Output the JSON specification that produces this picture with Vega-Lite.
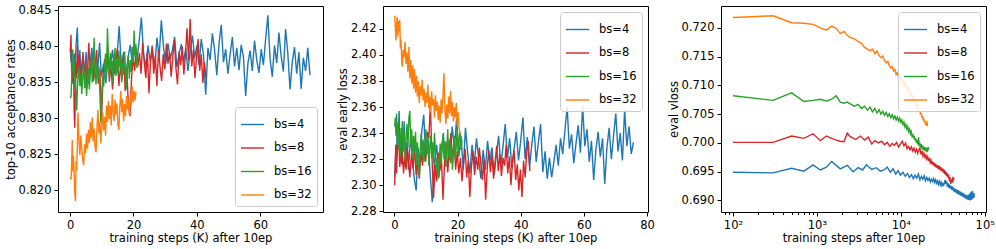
{
"$schema": "https://vega.github.io/schema/vega-lite/v6.json",
"padding": {"left": 4, "top": 3, "right": 1, "bottom": 3},
"background": "white",
"data": {"values": [
{"s":"bs=4","k":0.1,"a":0.8398,"e":2.306,"v":0.6949},
{"s":"bs=4","k":0.3,"a":0.8378,"e":2.318,"v":0.6948},
{"s":"bs=4","k":0.5,"a":0.8392,"e":2.331,"v":0.6956},
{"s":"bs=4","k":0.7,"a":0.8361,"e":2.322,"v":0.6951},
{"s":"bs=4","k":0.9,"a":0.8348,"e":2.345,"v":0.6962},
{"s":"bs=4","k":1.1,"a":0.8372,"e":2.328,"v":0.6953},
{"s":"bs=4","k":1.3,"a":0.8390,"e":2.340,"v":0.6958},
{"s":"bs=4","k":1.5,"a":0.8355,"e":2.357,"v":0.6968},
{"s":"bs=4","k":1.7,"a":0.8383,"e":2.335,"v":0.6961},
{"s":"bs=4","k":1.9,"a":0.8402,"e":2.318,"v":0.6955},
{"s":"bs=4","k":2.3,"a":0.8426,"e":2.341,"v":0.6961},
{"s":"bs=4","k":2.7,"a":0.8366,"e":2.326,"v":0.6950},
{"s":"bs=4","k":3.1,"a":0.8395,"e":2.349,"v":0.6957},
{"s":"bs=4","k":3.5,"a":0.8352,"e":2.318,"v":0.6953},
{"s":"bs=4","k":3.9,"a":0.8381,"e":2.333,"v":0.6962},
{"s":"bs=4","k":4.5,"a":0.8360,"e":2.312,"v":0.6954},
{"s":"bs=4","k":5.1,"a":0.8392,"e":2.338,"v":0.6957},
{"s":"bs=4","k":5.7,"a":0.8347,"e":2.321,"v":0.6951},
{"s":"bs=4","k":6.3,"a":0.8374,"e":2.305,"v":0.6953},
{"s":"bs=4","k":6.9,"a":0.8398,"e":2.296,"v":0.6958},
{"s":"bs=4","k":7.5,"a":0.8356,"e":2.329,"v":0.6949},
{"s":"bs=4","k":8.1,"a":0.8382,"e":2.315,"v":0.6955},
{"s":"bs=4","k":8.7,"a":0.8365,"e":2.342,"v":0.6946},
{"s":"bs=4","k":9.3,"a":0.8405,"e":2.354,"v":0.6952},
{"s":"bs=4","k":9.9,"a":0.8358,"e":2.322,"v":0.6944},
{"s":"bs=4","k":10.6,"a":0.8376,"e":2.336,"v":0.6949},
{"s":"bs=4","k":11.3,"a":0.8349,"e":2.310,"v":0.6942},
{"s":"bs=4","k":12.0,"a":0.8388,"e":2.287,"v":0.6947},
{"s":"bs=4","k":12.7,"a":0.8372,"e":2.318,"v":0.6940},
{"s":"bs=4","k":13.4,"a":0.8395,"e":2.331,"v":0.6945},
{"s":"bs=4","k":14.1,"a":0.8361,"e":2.306,"v":0.6938},
{"s":"bs=4","k":14.8,"a":0.8384,"e":2.326,"v":0.6944},
{"s":"bs=4","k":15.5,"a":0.8428,"e":2.340,"v":0.6939},
{"s":"bs=4","k":16.2,"a":0.8370,"e":2.315,"v":0.6946},
{"s":"bs=4","k":16.9,"a":0.8392,"e":2.333,"v":0.6936},
{"s":"bs=4","k":17.6,"a":0.8358,"e":2.319,"v":0.6942},
{"s":"bs=4","k":18.3,"a":0.8385,"e":2.345,"v":0.6937},
{"s":"bs=4","k":19.0,"a":0.8402,"e":2.328,"v":0.6943},
{"s":"bs=4","k":19.7,"a":0.8372,"e":2.351,"v":0.6934},
{"s":"bs=4","k":20.4,"a":0.8396,"e":2.322,"v":0.6940},
{"s":"bs=4","k":21.1,"a":0.8381,"e":2.338,"v":0.6935},
{"s":"bs=4","k":21.8,"a":0.8407,"e":2.312,"v":0.6939},
{"s":"bs=4","k":22.5,"a":0.8440,"e":2.344,"v":0.6932},
{"s":"bs=4","k":23.2,"a":0.8388,"e":2.325,"v":0.6937},
{"s":"bs=4","k":23.9,"a":0.8372,"e":2.309,"v":0.6933},
{"s":"bs=4","k":24.6,"a":0.8401,"e":2.331,"v":0.6938},
{"s":"bs=4","k":25.3,"a":0.8379,"e":2.316,"v":0.6931},
{"s":"bs=4","k":26.0,"a":0.8395,"e":2.336,"v":0.6936},
{"s":"bs=4","k":26.7,"a":0.8368,"e":2.320,"v":0.6930},
{"s":"bs=4","k":27.4,"a":0.8412,"e":2.305,"v":0.6934},
{"s":"bs=4","k":28.1,"a":0.8385,"e":2.327,"v":0.6928},
{"s":"bs=4","k":28.8,"a":0.8436,"e":2.312,"v":0.6933},
{"s":"bs=4","k":29.5,"a":0.8398,"e":2.334,"v":0.6927},
{"s":"bs=4","k":30.2,"a":0.8376,"e":2.318,"v":0.6932},
{"s":"bs=4","k":30.9,"a":0.8404,"e":2.329,"v":0.6926},
{"s":"bs=4","k":31.6,"a":0.8382,"e":2.308,"v":0.6931},
{"s":"bs=4","k":32.3,"a":0.8395,"e":2.324,"v":0.6925},
{"s":"bs=4","k":33.0,"a":0.8413,"e":2.338,"v":0.6930},
{"s":"bs=4","k":33.7,"a":0.8371,"e":2.315,"v":0.6936},
{"s":"bs=4","k":34.4,"a":0.8390,"e":2.330,"v":0.6929},
{"s":"bs=4","k":35.1,"a":0.8403,"e":2.347,"v":0.6934},
{"s":"bs=4","k":35.8,"a":0.8378,"e":2.321,"v":0.6924},
{"s":"bs=4","k":36.5,"a":0.8397,"e":2.336,"v":0.6930},
{"s":"bs=4","k":37.2,"a":0.8366,"e":2.313,"v":0.6922},
{"s":"bs=4","k":37.9,"a":0.8392,"e":2.328,"v":0.6928},
{"s":"bs=4","k":38.6,"a":0.8415,"e":2.341,"v":0.6921},
{"s":"bs=4","k":39.3,"a":0.8384,"e":2.319,"v":0.6926},
{"s":"bs=4","k":40.0,"a":0.8401,"e":2.334,"v":0.6919},
{"s":"bs=4","k":40.7,"a":0.8374,"e":2.352,"v":0.6925},
{"s":"bs=4","k":41.4,"a":0.8410,"e":2.320,"v":0.6918},
{"s":"bs=4","k":42.1,"a":0.8388,"e":2.337,"v":0.6923},
{"s":"bs=4","k":42.8,"a":0.8333,"e":2.314,"v":0.6916},
{"s":"bs=4","k":43.5,"a":0.8398,"e":2.331,"v":0.6921},
{"s":"bs=4","k":44.2,"a":0.8381,"e":2.345,"v":0.6915},
{"s":"bs=4","k":44.9,"a":0.8418,"e":2.318,"v":0.6920},
{"s":"bs=4","k":45.6,"a":0.8395,"e":2.333,"v":0.6913},
{"s":"bs=4","k":46.3,"a":0.8360,"e":2.347,"v":0.6919},
{"s":"bs=4","k":47.0,"a":0.8404,"e":2.310,"v":0.6912},
{"s":"bs=4","k":47.7,"a":0.8430,"e":2.326,"v":0.6918},
{"s":"bs=4","k":48.4,"a":0.8378,"e":2.305,"v":0.6911},
{"s":"bs=4","k":49.1,"a":0.8396,"e":2.321,"v":0.6917},
{"s":"bs=4","k":49.8,"a":0.8362,"e":2.306,"v":0.6910},
{"s":"bs=4","k":50.5,"a":0.8389,"e":2.318,"v":0.6916},
{"s":"bs=4","k":51.2,"a":0.8413,"e":2.331,"v":0.6909},
{"s":"bs=4","k":51.9,"a":0.8372,"e":2.315,"v":0.6915},
{"s":"bs=4","k":52.6,"a":0.8398,"e":2.336,"v":0.6908},
{"s":"bs=4","k":53.3,"a":0.8367,"e":2.324,"v":0.6914},
{"s":"bs=4","k":54.0,"a":0.8402,"e":2.342,"v":0.6907},
{"s":"bs=4","k":54.7,"a":0.8385,"e":2.360,"v":0.6913},
{"s":"bs=4","k":55.4,"a":0.8331,"e":2.328,"v":0.6906},
{"s":"bs=4","k":56.1,"a":0.8376,"e":2.339,"v":0.6912},
{"s":"bs=4","k":56.8,"a":0.8394,"e":2.317,"v":0.6905},
{"s":"bs=4","k":57.5,"a":0.8366,"e":2.332,"v":0.6911},
{"s":"bs=4","k":58.2,"a":0.8408,"e":2.346,"v":0.6904},
{"s":"bs=4","k":58.9,"a":0.8381,"e":2.325,"v":0.6910},
{"s":"bs=4","k":59.6,"a":0.8363,"e":2.361,"v":0.6903},
{"s":"bs=4","k":60.3,"a":0.8396,"e":2.330,"v":0.6909},
{"s":"bs=4","k":61.0,"a":0.8374,"e":2.343,"v":0.6902},
{"s":"bs=4","k":61.7,"a":0.8410,"e":2.318,"v":0.6908},
{"s":"bs=4","k":62.4,"a":0.8443,"e":2.334,"v":0.6903},
{"s":"bs=4","k":63.1,"a":0.8382,"e":2.304,"v":0.6910},
{"s":"bs=4","k":63.8,"a":0.8358,"e":2.327,"v":0.6901},
{"s":"bs=4","k":64.5,"a":0.8401,"e":2.341,"v":0.6907},
{"s":"bs=4","k":65.2,"a":0.8377,"e":2.322,"v":0.6903},
{"s":"bs=4","k":65.9,"a":0.8419,"e":2.336,"v":0.6912},
{"s":"bs=4","k":66.6,"a":0.8386,"e":2.301,"v":0.6900},
{"s":"bs=4","k":67.3,"a":0.8365,"e":2.329,"v":0.6906},
{"s":"bs=4","k":68.0,"a":0.8424,"e":2.344,"v":0.6902},
{"s":"bs=4","k":68.7,"a":0.8390,"e":2.320,"v":0.6915},
{"s":"bs=4","k":69.4,"a":0.8340,"e":2.338,"v":0.6901},
{"s":"bs=4","k":70.1,"a":0.8378,"e":2.355,"v":0.6908},
{"s":"bs=4","k":70.8,"a":0.8399,"e":2.326,"v":0.6904},
{"s":"bs=4","k":71.5,"a":0.8362,"e":2.340,"v":0.6917},
{"s":"bs=4","k":72.2,"a":0.8392,"e":2.319,"v":0.6903},
{"s":"bs=4","k":72.9,"a":0.8341,"e":2.358,"v":0.6910},
{"s":"bs=4","k":73.6,"a":0.8384,"e":2.330,"v":0.6905},
{"s":"bs=4","k":74.3,"a":0.8366,"e":2.345,"v":0.6913},
{"s":"bs=4","k":75.0,"a":0.8398,"e":2.324,"v":0.6906},
{"s":"bs=4","k":75.7,"a":0.8360,"e":2.333,"v":0.6909},
{"s":"bs=8","k":0.1,"a":0.8392,"e":2.300,"v":0.7001},
{"s":"bs=8","k":0.3,"a":0.8416,"e":2.318,"v":0.7001},
{"s":"bs=8","k":0.5,"a":0.8365,"e":2.331,"v":0.7012},
{"s":"bs=8","k":0.7,"a":0.8384,"e":2.309,"v":0.7008},
{"s":"bs=8","k":0.9,"a":0.8350,"e":2.325,"v":0.7016},
{"s":"bs=8","k":1.1,"a":0.8372,"e":2.334,"v":0.7004},
{"s":"bs=8","k":1.3,"a":0.8310,"e":2.343,"v":0.7012},
{"s":"bs=8","k":1.5,"a":0.8287,"e":2.328,"v":0.7008},
{"s":"bs=8","k":1.7,"a":0.8345,"e":2.314,"v":0.7005},
{"s":"bs=8","k":1.9,"a":0.8378,"e":2.322,"v":0.7003},
{"s":"bs=8","k":2.1,"a":0.8356,"e":2.339,"v":0.7002},
{"s":"bs=8","k":2.3,"a":0.8401,"e":2.316,"v":0.7017},
{"s":"bs=8","k":2.5,"a":0.8363,"e":2.327,"v":0.7011},
{"s":"bs=8","k":2.9,"a":0.8388,"e":2.309,"v":0.7006},
{"s":"bs=8","k":3.3,"a":0.8347,"e":2.322,"v":0.7012},
{"s":"bs=8","k":3.7,"a":0.8371,"e":2.312,"v":0.7005},
{"s":"bs=8","k":4.1,"a":0.8392,"e":2.330,"v":0.7010},
{"s":"bs=8","k":4.5,"a":0.8358,"e":2.318,"v":0.6998},
{"s":"bs=8","k":4.9,"a":0.8380,"e":2.306,"v":0.7004},
{"s":"bs=8","k":5.4,"a":0.8343,"e":2.324,"v":0.7000},
{"s":"bs=8","k":5.9,"a":0.8405,"e":2.313,"v":0.7003},
{"s":"bs=8","k":6.4,"a":0.8366,"e":2.329,"v":0.6997},
{"s":"bs=8","k":6.9,"a":0.8385,"e":2.308,"v":0.7001},
{"s":"bs=8","k":7.4,"a":0.8352,"e":2.320,"v":0.6994},
{"s":"bs=8","k":7.9,"a":0.8374,"e":2.305,"v":0.6999},
{"s":"bs=8","k":8.4,"a":0.8395,"e":2.326,"v":0.6996},
{"s":"bs=8","k":8.9,"a":0.8348,"e":2.315,"v":0.7001},
{"s":"bs=8","k":9.4,"a":0.8368,"e":2.332,"v":0.6993},
{"s":"bs=8","k":9.9,"a":0.8294,"e":2.318,"v":0.6998},
{"s":"bs=8","k":10.4,"a":0.8357,"e":2.341,"v":0.7003},
{"s":"bs=8","k":10.9,"a":0.8382,"e":2.336,"v":0.6995},
{"s":"bs=8","k":11.4,"a":0.8362,"e":2.361,"v":0.7000},
{"s":"bs=8","k":11.9,"a":0.8399,"e":2.322,"v":0.6990},
{"s":"bs=8","k":12.4,"a":0.8351,"e":2.290,"v":0.6994},
{"s":"bs=8","k":12.9,"a":0.8376,"e":2.316,"v":0.6988},
{"s":"bs=8","k":13.4,"a":0.8340,"e":2.303,"v":0.6993},
{"s":"bs=8","k":13.9,"a":0.8388,"e":2.325,"v":0.6986},
{"s":"bs=8","k":14.4,"a":0.8364,"e":2.311,"v":0.6991},
{"s":"bs=8","k":14.9,"a":0.8397,"e":2.320,"v":0.6984},
{"s":"bs=8","k":15.4,"a":0.8345,"e":2.289,"v":0.6989},
{"s":"bs=8","k":15.9,"a":0.8372,"e":2.318,"v":0.6982},
{"s":"bs=8","k":16.4,"a":0.8354,"e":2.333,"v":0.6988},
{"s":"bs=8","k":16.9,"a":0.8390,"e":2.310,"v":0.6991},
{"s":"bs=8","k":17.4,"a":0.8338,"e":2.327,"v":0.6980},
{"s":"bs=8","k":17.9,"a":0.8368,"e":2.340,"v":0.6986},
{"s":"bs=8","k":18.4,"a":0.8318,"e":2.319,"v":0.6977},
{"s":"bs=8","k":18.9,"a":0.8303,"e":2.334,"v":0.6982},
{"s":"bs=8","k":19.4,"a":0.8356,"e":2.312,"v":0.6975},
{"s":"bs=8","k":19.9,"a":0.8384,"e":2.326,"v":0.6979},
{"s":"bs=8","k":20.4,"a":0.8366,"e":2.309,"v":0.6972},
{"s":"bs=8","k":20.9,"a":0.8398,"e":2.321,"v":0.6976},
{"s":"bs=8","k":21.4,"a":0.8372,"e":2.303,"v":0.6969},
{"s":"bs=8","k":21.9,"a":0.8391,"e":2.317,"v":0.6974},
{"s":"bs=8","k":22.4,"a":0.8362,"e":2.328,"v":0.6966},
{"s":"bs=8","k":22.9,"a":0.8405,"e":2.306,"v":0.6970},
{"s":"bs=8","k":23.4,"a":0.8378,"e":2.319,"v":0.6963},
{"s":"bs=8","k":23.9,"a":0.8356,"e":2.291,"v":0.6968},
{"s":"bs=8","k":24.4,"a":0.8392,"e":2.314,"v":0.6961},
{"s":"bs=8","k":24.9,"a":0.8335,"e":2.326,"v":0.6966},
{"s":"bs=8","k":25.4,"a":0.8380,"e":2.308,"v":0.6959},
{"s":"bs=8","k":25.9,"a":0.8401,"e":2.322,"v":0.6964},
{"s":"bs=8","k":26.4,"a":0.8362,"e":2.312,"v":0.6957},
{"s":"bs=8","k":26.9,"a":0.8387,"e":2.329,"v":0.6962},
{"s":"bs=8","k":27.4,"a":0.8345,"e":2.316,"v":0.6956},
{"s":"bs=8","k":27.9,"a":0.8395,"e":2.304,"v":0.6961},
{"s":"bs=8","k":28.4,"a":0.8371,"e":2.320,"v":0.6954},
{"s":"bs=8","k":28.9,"a":0.8352,"e":2.289,"v":0.6960},
{"s":"bs=8","k":29.4,"a":0.8389,"e":2.313,"v":0.6953},
{"s":"bs=8","k":29.9,"a":0.8368,"e":2.327,"v":0.6958},
{"s":"bs=8","k":30.4,"a":0.8404,"e":2.310,"v":0.6951},
{"s":"bs=8","k":30.9,"a":0.8376,"e":2.323,"v":0.6956},
{"s":"bs=8","k":31.4,"a":0.8392,"e":2.305,"v":0.6950},
{"s":"bs=8","k":31.9,"a":0.8358,"e":2.318,"v":0.6955},
{"s":"bs=8","k":32.4,"a":0.8385,"e":2.330,"v":0.6948},
{"s":"bs=8","k":32.9,"a":0.8409,"e":2.311,"v":0.6953},
{"s":"bs=8","k":33.4,"a":0.8370,"e":2.324,"v":0.6946},
{"s":"bs=8","k":33.9,"a":0.8347,"e":2.307,"v":0.6951},
{"s":"bs=8","k":34.4,"a":0.8393,"e":2.321,"v":0.6944},
{"s":"bs=8","k":34.9,"a":0.8374,"e":2.315,"v":0.6949},
{"s":"bs=8","k":35.4,"a":0.8400,"e":2.331,"v":0.6942},
{"s":"bs=8","k":35.9,"a":0.8361,"e":2.309,"v":0.6947},
{"s":"bs=8","k":36.4,"a":0.8388,"e":2.322,"v":0.6940},
{"s":"bs=8","k":36.9,"a":0.8425,"e":2.300,"v":0.6945},
{"s":"bs=8","k":37.4,"a":0.8380,"e":2.318,"v":0.6938},
{"s":"bs=8","k":37.9,"a":0.8438,"e":2.327,"v":0.6936},
{"s":"bs=8","k":38.4,"a":0.8372,"e":2.304,"v":0.6941},
{"s":"bs=8","k":38.9,"a":0.8395,"e":2.316,"v":0.6934},
{"s":"bs=8","k":39.4,"a":0.8356,"e":2.296,"v":0.6929},
{"s":"bs=8","k":39.9,"a":0.8384,"e":2.312,"v":0.6936},
{"s":"bs=8","k":40.4,"a":0.8410,"e":2.291,"v":0.6932},
{"s":"bs=8","k":40.9,"a":0.8366,"e":2.319,"v":0.6938},
{"s":"bs=8","k":41.4,"a":0.8389,"e":2.306,"v":0.6931},
{"s":"bs=8","k":41.9,"a":0.8349,"e":2.325,"v":0.6941},
{"s":"bs=8","k":42.4,"a":0.8378,"e":2.334,"v":0.6935},
{"s":"bs=8","k":42.9,"a":0.8355,"e":2.311,"v":0.6940},
{"s":"bs=16","k":0.1,"a":0.8328,"e":2.345,"v":0.7082},
{"s":"bs=16","k":0.3,"a":0.8330,"e":2.352,"v":0.7074},
{"s":"bs=16","k":0.5,"a":0.8352,"e":2.338,"v":0.7087},
{"s":"bs=16","k":0.7,"a":0.8381,"e":2.355,"v":0.7072},
{"s":"bs=16","k":0.9,"a":0.8396,"e":2.342,"v":0.7074},
{"s":"bs=16","k":1.1,"a":0.8365,"e":2.331,"v":0.7076},
{"s":"bs=16","k":1.3,"a":0.8378,"e":2.348,"v":0.7073},
{"s":"bs=16","k":1.5,"a":0.8342,"e":2.327,"v":0.7076},
{"s":"bs=16","k":1.7,"a":0.8360,"e":2.339,"v":0.7082},
{"s":"bs=16","k":1.9,"a":0.8325,"e":2.322,"v":0.7071},
{"s":"bs=16","k":2.1,"a":0.8311,"e":2.344,"v":0.7069},
{"s":"bs=16","k":2.3,"a":0.8338,"e":2.334,"v":0.7071},
{"s":"bs=16","k":2.5,"a":0.8356,"e":2.349,"v":0.7068},
{"s":"bs=16","k":2.8,"a":0.8372,"e":2.326,"v":0.7064},
{"s":"bs=16","k":3.1,"a":0.8345,"e":2.340,"v":0.7067},
{"s":"bs=16","k":3.4,"a":0.8361,"e":2.318,"v":0.7060},
{"s":"bs=16","k":3.7,"a":0.8334,"e":2.336,"v":0.7064},
{"s":"bs=16","k":4.0,"a":0.8357,"e":2.347,"v":0.7057},
{"s":"bs=16","k":4.3,"a":0.8377,"e":2.329,"v":0.7062},
{"s":"bs=16","k":4.6,"a":0.8342,"e":2.352,"v":0.7054},
{"s":"bs=16","k":4.9,"a":0.8365,"e":2.357,"v":0.7060},
{"s":"bs=16","k":5.2,"a":0.8331,"e":2.331,"v":0.7052},
{"s":"bs=16","k":5.5,"a":0.8353,"e":2.343,"v":0.7058},
{"s":"bs=16","k":5.8,"a":0.8370,"e":2.320,"v":0.7050},
{"s":"bs=16","k":6.1,"a":0.8340,"e":2.338,"v":0.7055},
{"s":"bs=16","k":6.4,"a":0.8362,"e":2.325,"v":0.7048},
{"s":"bs=16","k":6.7,"a":0.8385,"e":2.341,"v":0.7053},
{"s":"bs=16","k":7.0,"a":0.8350,"e":2.316,"v":0.7046},
{"s":"bs=16","k":7.3,"a":0.8373,"e":2.333,"v":0.7051},
{"s":"bs=16","k":7.6,"a":0.8412,"e":2.312,"v":0.7044},
{"s":"bs=16","k":7.9,"a":0.8366,"e":2.307,"v":0.7049},
{"s":"bs=16","k":8.2,"a":0.8347,"e":2.328,"v":0.7042},
{"s":"bs=16","k":8.5,"a":0.8378,"e":2.340,"v":0.7047},
{"s":"bs=16","k":8.8,"a":0.8355,"e":2.322,"v":0.7040},
{"s":"bs=16","k":9.1,"a":0.8372,"e":2.335,"v":0.7045},
{"s":"bs=16","k":9.4,"a":0.8338,"e":2.318,"v":0.7038},
{"s":"bs=16","k":9.7,"a":0.8296,"e":2.330,"v":0.7043},
{"s":"bs=16","k":10.0,"a":0.8331,"e":2.343,"v":0.7036},
{"s":"bs=16","k":10.3,"a":0.8358,"e":2.324,"v":0.7040},
{"s":"bs=16","k":10.6,"a":0.8344,"e":2.336,"v":0.7032},
{"s":"bs=16","k":10.9,"a":0.8371,"e":2.315,"v":0.7036},
{"s":"bs=16","k":11.2,"a":0.8390,"e":2.329,"v":0.7028},
{"s":"bs=16","k":11.5,"a":0.8362,"e":2.338,"v":0.7032},
{"s":"bs=16","k":11.8,"a":0.8425,"e":2.321,"v":0.7024},
{"s":"bs=16","k":12.1,"a":0.8384,"e":2.333,"v":0.7028},
{"s":"bs=16","k":12.4,"a":0.8356,"e":2.317,"v":0.7020},
{"s":"bs=16","k":12.7,"a":0.8391,"e":2.340,"v":0.7024},
{"s":"bs=16","k":13.0,"a":0.8366,"e":2.326,"v":0.7016},
{"s":"bs=16","k":13.3,"a":0.8380,"e":2.312,"v":0.7020},
{"s":"bs=16","k":13.6,"a":0.8347,"e":2.321,"v":0.7012},
{"s":"bs=16","k":13.9,"a":0.8375,"e":2.305,"v":0.7016},
{"s":"bs=16","k":14.2,"a":0.8398,"e":2.318,"v":0.7008},
{"s":"bs=16","k":14.5,"a":0.8359,"e":2.332,"v":0.7012},
{"s":"bs=16","k":14.8,"a":0.8383,"e":2.316,"v":0.7004},
{"s":"bs=16","k":15.1,"a":0.8362,"e":2.327,"v":0.7008},
{"s":"bs=16","k":15.4,"a":0.8394,"e":2.339,"v":0.7000},
{"s":"bs=16","k":15.7,"a":0.8371,"e":2.320,"v":0.7005},
{"s":"bs=16","k":16.0,"a":0.8387,"e":2.334,"v":0.6997},
{"s":"bs=16","k":16.3,"a":0.8350,"e":2.314,"v":0.7010},
{"s":"bs=16","k":16.6,"a":0.8376,"e":2.328,"v":0.6994},
{"s":"bs=16","k":16.9,"a":0.8361,"e":2.343,"v":0.7000},
{"s":"bs=16","k":17.2,"a":0.8393,"e":2.322,"v":0.6992},
{"s":"bs=16","k":17.5,"a":0.8368,"e":2.335,"v":0.6998},
{"s":"bs=16","k":17.8,"a":0.8340,"e":2.317,"v":0.6990},
{"s":"bs=16","k":18.1,"a":0.8372,"e":2.330,"v":0.6996},
{"s":"bs=16","k":18.4,"a":0.8386,"e":2.312,"v":0.6988},
{"s":"bs=16","k":18.7,"a":0.8355,"e":2.325,"v":0.6994},
{"s":"bs=16","k":19.0,"a":0.8381,"e":2.338,"v":0.6987},
{"s":"bs=16","k":19.3,"a":0.8364,"e":2.319,"v":0.6993},
{"s":"bs=16","k":19.6,"a":0.8399,"e":2.331,"v":0.6986},
{"s":"bs=16","k":19.9,"a":0.8377,"e":2.344,"v":0.6992},
{"s":"bs=16","k":20.2,"a":0.8422,"e":2.323,"v":0.6985},
{"s":"bs=16","k":20.5,"a":0.8388,"e":2.336,"v":0.6991},
{"s":"bs=16","k":20.8,"a":0.8403,"e":2.341,"v":0.6984},
{"s":"bs=16","k":21.1,"a":0.8370,"e":2.327,"v":0.6993},
{"s":"bs=16","k":21.4,"a":0.8386,"e":2.335,"v":0.6988},
{"s":"bs=32","k":0.1,"a":0.8218,"e":2.430,"v":0.7218},
{"s":"bs=32","k":0.3,"a":0.8215,"e":2.421,"v":0.7221},
{"s":"bs=32","k":0.5,"a":0.8238,"e":2.411,"v":0.7209},
{"s":"bs=32","k":0.7,"a":0.8270,"e":2.424,"v":0.7208},
{"s":"bs=32","k":0.9,"a":0.8226,"e":2.429,"v":0.7206},
{"s":"bs=32","k":1.1,"a":0.8248,"e":2.414,"v":0.7200},
{"s":"bs=32","k":1.3,"a":0.8222,"e":2.426,"v":0.7196},
{"s":"bs=32","k":1.5,"a":0.8197,"e":2.418,"v":0.7203},
{"s":"bs=32","k":1.7,"a":0.8185,"e":2.427,"v":0.7199},
{"s":"bs=32","k":1.9,"a":0.8240,"e":2.405,"v":0.7190},
{"s":"bs=32","k":2.1,"a":0.8228,"e":2.412,"v":0.7194},
{"s":"bs=32","k":2.3,"a":0.8262,"e":2.397,"v":0.7187},
{"s":"bs=32","k":2.5,"a":0.8308,"e":2.391,"v":0.7183},
{"s":"bs=32","k":2.8,"a":0.8271,"e":2.404,"v":0.7181},
{"s":"bs=32","k":3.1,"a":0.8249,"e":2.398,"v":0.7176},
{"s":"bs=32","k":3.4,"a":0.8276,"e":2.410,"v":0.7173},
{"s":"bs=32","k":3.7,"a":0.8258,"e":2.393,"v":0.7166},
{"s":"bs=32","k":4.0,"a":0.8242,"e":2.402,"v":0.7163},
{"s":"bs=32","k":4.3,"a":0.8235,"e":2.387,"v":0.7160},
{"s":"bs=32","k":4.6,"a":0.8264,"e":2.406,"v":0.7163},
{"s":"bs=32","k":4.9,"a":0.8252,"e":2.382,"v":0.7155},
{"s":"bs=32","k":5.2,"a":0.8279,"e":2.396,"v":0.7160},
{"s":"bs=32","k":5.5,"a":0.8258,"e":2.378,"v":0.7152},
{"s":"bs=32","k":5.8,"a":0.8284,"e":2.392,"v":0.7148},
{"s":"bs=32","k":6.1,"a":0.8266,"e":2.374,"v":0.7151},
{"s":"bs=32","k":6.4,"a":0.8295,"e":2.389,"v":0.7143},
{"s":"bs=32","k":6.7,"a":0.8272,"e":2.371,"v":0.7139},
{"s":"bs=32","k":7.0,"a":0.8301,"e":2.384,"v":0.7142},
{"s":"bs=32","k":7.3,"a":0.8268,"e":2.368,"v":0.7134},
{"s":"bs=32","k":7.6,"a":0.8286,"e":2.380,"v":0.7130},
{"s":"bs=32","k":7.9,"a":0.8260,"e":2.363,"v":0.7133},
{"s":"bs=32","k":8.2,"a":0.8253,"e":2.376,"v":0.7125},
{"s":"bs=32","k":8.5,"a":0.8288,"e":2.369,"v":0.7128},
{"s":"bs=32","k":8.8,"a":0.8312,"e":2.381,"v":0.7119},
{"s":"bs=32","k":9.1,"a":0.8279,"e":2.365,"v":0.7122},
{"s":"bs=32","k":9.4,"a":0.8296,"e":2.374,"v":0.7114},
{"s":"bs=32","k":9.7,"a":0.8265,"e":2.360,"v":0.7117},
{"s":"bs=32","k":10.0,"a":0.8290,"e":2.371,"v":0.7109},
{"s":"bs=32","k":10.3,"a":0.8308,"e":2.363,"v":0.7112},
{"s":"bs=32","k":10.6,"a":0.8283,"e":2.377,"v":0.7104},
{"s":"bs=32","k":10.9,"a":0.8302,"e":2.359,"v":0.7107},
{"s":"bs=32","k":11.2,"a":0.8276,"e":2.368,"v":0.7099},
{"s":"bs=32","k":11.5,"a":0.8318,"e":2.356,"v":0.7102},
{"s":"bs=32","k":11.8,"a":0.8295,"e":2.372,"v":0.7094},
{"s":"bs=32","k":12.1,"a":0.8324,"e":2.361,"v":0.7097},
{"s":"bs=32","k":12.4,"a":0.8299,"e":2.366,"v":0.7089},
{"s":"bs=32","k":12.7,"a":0.8317,"e":2.352,"v":0.7092},
{"s":"bs=32","k":13.0,"a":0.8290,"e":2.369,"v":0.7084},
{"s":"bs=32","k":13.3,"a":0.8334,"e":2.357,"v":0.7087},
{"s":"bs=32","k":13.6,"a":0.8310,"e":2.364,"v":0.7079},
{"s":"bs=32","k":13.9,"a":0.8296,"e":2.350,"v":0.7082},
{"s":"bs=32","k":14.2,"a":0.8326,"e":2.361,"v":0.7074},
{"s":"bs=32","k":14.5,"a":0.8305,"e":2.348,"v":0.7077},
{"s":"bs=32","k":14.8,"a":0.8321,"e":2.366,"v":0.7069},
{"s":"bs=32","k":15.1,"a":0.8292,"e":2.355,"v":0.7072},
{"s":"bs=32","k":15.4,"a":0.8284,"e":2.370,"v":0.7064},
{"s":"bs=32","k":15.7,"a":0.8316,"e":2.386,"v":0.7067},
{"s":"bs=32","k":16.0,"a":0.8338,"e":2.358,"v":0.7059},
{"s":"bs=32","k":16.3,"a":0.8309,"e":2.347,"v":0.7062},
{"s":"bs=32","k":16.6,"a":0.8327,"e":2.362,"v":0.7054},
{"s":"bs=32","k":16.9,"a":0.8296,"e":2.351,"v":0.7057},
{"s":"bs=32","k":17.2,"a":0.8320,"e":2.368,"v":0.7049},
{"s":"bs=32","k":17.5,"a":0.8303,"e":2.355,"v":0.7052},
{"s":"bs=32","k":17.8,"a":0.8331,"e":2.372,"v":0.7044},
{"s":"bs=32","k":18.1,"a":0.8312,"e":2.353,"v":0.7047},
{"s":"bs=32","k":18.4,"a":0.8326,"e":2.364,"v":0.7040},
{"s":"bs=32","k":18.7,"a":0.8305,"e":2.349,"v":0.7043},
{"s":"bs=32","k":19.0,"a":0.8333,"e":2.360,"v":0.7036},
{"s":"bs=32","k":19.3,"a":0.8318,"e":2.352,"v":0.7039},
{"s":"bs=32","k":19.6,"a":0.8345,"e":2.363,"v":0.7032},
{"s":"bs=32","k":19.9,"a":0.8322,"e":2.346,"v":0.7035},
{"s":"bs=32","k":20.2,"a":0.8338,"e":2.356,"v":0.7030},
{"s":"bs=32","k":20.5,"a":0.8325,"e":2.343,"v":0.7038},
{"s":"bs=32","k":20.8,"a":0.8337,"e":2.340,"v":0.7029}
]},
"config": {
  "font": "DejaVu Sans",
  "view": {"stroke": "black", "strokeWidth": 1},
  "axis": {"grid": false, "domain": false, "tickColor": "black", "tickSize": 4, "labelFont": "DejaVu Sans", "labelFontSize": 11.5, "labelColor": "black", "titleFont": "DejaVu Sans", "titleFontSize": 11.5, "titleFontWeight": "normal", "titleColor": "black", "labelPadding": 3, "titlePadding": 2, "labelFlush": false},
  "legend": {"labelFont": "DejaVu Sans", "labelFontSize": 11.5, "labelColor": "black", "symbolType": "stroke", "symbolStrokeWidth": 1.5, "symbolSize": 530, "strokeColor": "#cccccc", "fillColor": "rgba(255,255,255,0.85)", "cornerRadius": 3, "padding": 5, "rowPadding": 5.5, "labelOffset": 9, "offset": 6},
  "line": {"strokeWidth": 1.4}
},
"spacing": 12,
"resolve": {"legend": {"color": "independent"}},
"hconcat": [
  {
    "width": 265, "height": 206,
    "mark": {"type": "line", "clip": true},
    "encoding": {
      "x": {"field": "k", "type": "quantitative", "scale": {"domain": [-3.8, 79.8], "nice": false, "zero": false}, "axis": {"title": "training steps (K) after 10ep", "values": [0, 20, 40, 60]}},
      "y": {"field": "a", "type": "quantitative", "scale": {"domain": [0.817, 0.8456], "nice": false, "zero": false}, "axis": {"title": "top-10 acceptance rates", "values": [0.82, 0.825, 0.83, 0.835, 0.84, 0.845], "format": ".3f"}},
      "color": {"field": "s", "type": "nominal", "scale": {"domain": ["bs=4", "bs=8", "bs=16", "bs=32"], "range": ["#1f77b4", "#d62728", "#2ca02c", "#ff7f0e"]}, "legend": {"orient": "bottom-right", "title": null}}
    }
  },
  {
    "width": 265, "height": 206,
    "mark": {"type": "line", "clip": true},
    "encoding": {
      "x": {"field": "k", "type": "quantitative", "scale": {"domain": [-3.6, 80.3], "nice": false, "zero": false}, "axis": {"title": "training steps (K) after 10ep", "values": [0, 20, 40, 60, 80]}},
      "y": {"field": "e", "type": "quantitative", "scale": {"domain": [2.2795, 2.4375], "nice": false, "zero": false}, "axis": {"title": "eval early loss", "values": [2.28, 2.3, 2.32, 2.34, 2.36, 2.38, 2.4, 2.42], "format": ".2f"}},
      "color": {"field": "s", "type": "nominal", "scale": {"domain": ["bs=4", "bs=8", "bs=16", "bs=32"], "range": ["#1f77b4", "#d62728", "#2ca02c", "#ff7f0e"]}, "legend": {"orient": "top-right", "title": null}}
    }
  },
  {
    "width": 265, "height": 206,
    "layer": [
      {
        "mark": {"type": "line", "clip": true},
        "encoding": {
          "x": {"field": "k", "type": "quantitative", "scale": {"type": "log", "domain": [0.072, 103.6], "nice": false}, "axis": {"title": "training steps after 10ep", "values": [0.1, 1, 10, 100], "labelExpr": "datum.value < 0.5 ? '10²' : datum.value < 5 ? '10³' : datum.value < 50 ? '10⁴' : '10⁵'"}},
          "y": {"field": "v", "type": "quantitative", "scale": {"domain": [0.688, 0.7238], "nice": false, "zero": false}, "axis": {"title": "eval vloss", "values": [0.69, 0.695, 0.7, 0.705, 0.71, 0.715, 0.72], "format": ".3f"}},
          "color": {"field": "s", "type": "nominal", "scale": {"domain": ["bs=4", "bs=8", "bs=16", "bs=32"], "range": ["#1f77b4", "#d62728", "#2ca02c", "#ff7f0e"]}, "legend": {"orient": "top-right", "title": null}}
        }
      },
      {
        "mark": {"type": "point", "opacity": 0},
        "encoding": {
          "x": {"field": "k", "type": "quantitative", "scale": {"type": "log", "domain": [0.072, 103.6], "nice": false}, "axis": {"orient": "bottom", "title": null, "labels": false, "tickSize": 2.5, "values": [0.08, 0.09, 0.2, 0.3, 0.4, 0.5, 0.6, 0.7, 0.8, 0.9, 2, 3, 4, 5, 6, 7, 8, 9, 20, 30, 40, 50, 60, 70, 80, 90]}}
        }
      }
    ],
    "resolve": {"axis": {"x": "independent"}}
  }
]
}
